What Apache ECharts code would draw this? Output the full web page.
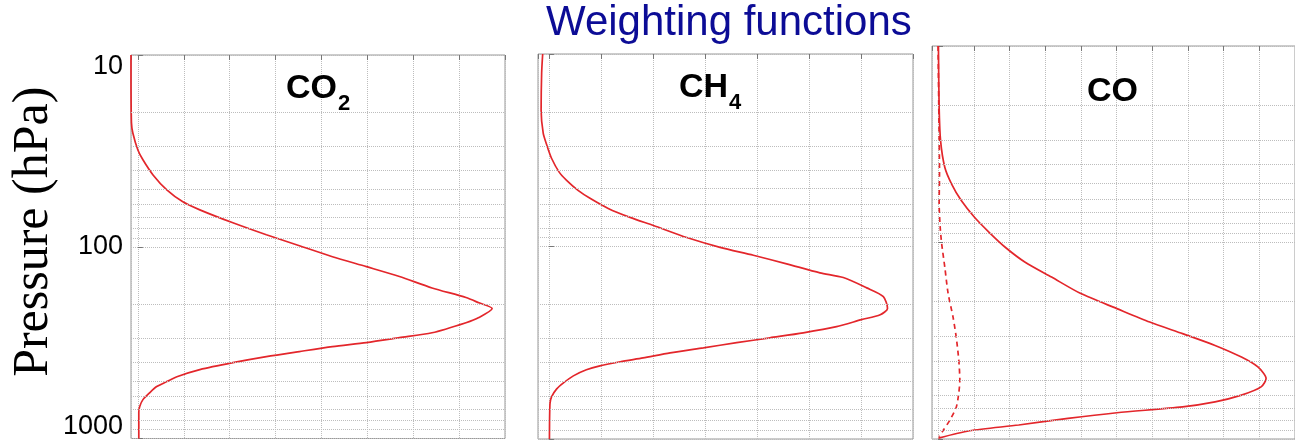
<!DOCTYPE html>
<html>
<head>
<meta charset="utf-8">
<title>Weighting functions</title>
<script src="https://cdn.jsdelivr.net/npm/echarts@6/dist/echarts.min.js"></script>
<style>
  html, body { margin: 0; padding: 0; background: #fff; }
  #chart { width: 1295px; height: 440px; }
</style>
</head>
<body>
<div id="chart"></div>
<script>
// pressure (hPa) / weighting values
const co2Pressure = [10, 12.4, 22.6, 25.5, 31.3, 35.2, 42.2, 50.5, 58.3, 64.2, 75, 86.6, 98.8, 112.7, 127, 143, 164, 184, 196, 210,
  234, 249, 281, 298, 316, 332, 352, 374, 402, 437, 476, 505, 536, 576, 627, 681, 732, 1000];
const co2Weight = [-0.15, -0.15, -0.14, -0.11, 0, 0.11, 0.33, 0.63, 0.98, 1.35, 2.07, 2.80, 3.52, 4.24, 4.98, 5.70, 6.41, 7.15, 7.43, 7.72,
  7.43, 7.15, 6.41, 5.70, 4.98, 4.24, 3.52, 2.80, 2.07, 1.35, 0.85, 0.63, 0.41, 0.26, 0.11, 0.04, 0.02, 0.02];

const ch4Pressure = [10, 12.6, 19.6, 25.8, 29.8, 34.8, 41.2, 45.3, 51.1, 56.2, 63.4, 70.6, 77.8, 89.8, 101, 111, 123, 137, 145, 164,
  182, 210, 226, 240, 261, 281, 298, 316, 336, 357, 379, 397, 417, 437, 470, 511, 549, 604, 658, 1000];
const ch4Weight = [-0.12, -0.14, -0.15, -0.11, -0.04, 0.05, 0.20, 0.34, 0.56, 0.79, 1.14, 1.56, 2.01, 2.65, 3.29, 3.93, 4.57, 5.21, 5.66, 6.11,
  6.43, 6.51, 6.37, 6.01, 5.53, 4.89, 4.25, 3.61, 2.97, 2.33, 1.81, 1.37, 0.98, 0.72, 0.47, 0.28, 0.15, 0.05, 0.02, 0.01];

const coPressure = [10, 20.5, 30.3, 41.5, 50.4, 61.2, 74.4, 88.7, 106, 126, 150, 182, 217, 254, 291, 334, 383, 430, 492, 543,
  598, 647, 686, 735, 785, 849, 908, 990];
const coWeight = [0.01, 0.03, 0.07, 0.19, 0.38, 0.65, 1.02, 1.43, 1.89, 2.44, 3.18, 4.00, 5.01, 5.93, 6.85, 7.76, 8.50, 8.96, 9.19, 9.05,
  8.50, 7.76, 6.85, 5.01, 3.64, 2.26, 0.88, 0.01];

// dashed curve in the CO panel
const coDashPressure = [10, 20.6, 44.6, 63.4, 84, 101, 134, 181, 240, 304, 397, 502, 584, 689, 802, 900, 970];
const coDashWeight = [0.00, 0.02, 0.04, 0.03, 0.06, 0.10, 0.19, 0.28, 0.42, 0.51, 0.58, 0.61, 0.58, 0.51, 0.33, 0.15, 0.03];

// minor pressure grid lines
const minorPressure = [20, 30, 40, 50, 60, 70, 80, 90, 200, 300, 400, 500, 600, 700, 800, 900];
const pressureLabels = { 10: '{top|10}', 100: '100', 1000: '{bot|1000}' };

const RED = '#e3262b';
const GRID_COLOR = '#bdbdbd';

const chart = echarts.init(document.getElementById('chart'));

function pairs(xs, ps) {
  return xs.map((x, i) => [x, ps[i]]);
}

// x extents per panel (ticks at whole numbers)
const panels = [
  { left: 131, top: 55, width: 374, height: 384, min: -0.15, max: 8, split: 8 },
  { left: 538, top: 54, width: 375, height: 385, min: -0.21, max: 7, split: 7 },
  { left: 932, top: 46, width: 369, height: 393, min: -0.17, max: 10, split: 10 }
];

const xAxes = [];
const yAxes = [];
panels.forEach((p, i) => {
  xAxes.push({
    gridIndex: i, type: 'value', min: p.min, max: p.max, splitNumber: p.split,
    axisLabel: { show: false }, axisLine: { show: false }, axisTick: { show: false },
    splitLine: { show: true, lineStyle: { color: GRID_COLOR, type: 'dotted', width: 1 } }
  });
  xAxes.push({
    gridIndex: i, type: 'value', position: 'top', min: p.min, max: p.max, splitNumber: p.split,
    axisLabel: { show: false }, axisLine: { show: false }, splitLine: { show: false },
    axisTick: { show: true, inside: true, length: 5, lineStyle: { color: '#777' } }
  });
  yAxes.push({
    gridIndex: i, type: 'log', logBase: 10, min: 10, max: 1000, inverse: true, splitNumber: 2,
    axisLine: { show: false },
    axisTick: { show: true, inside: true, length: 5, lineStyle: { color: '#777' } },
    splitLine: { show: true, lineStyle: { color: GRID_COLOR, type: 'dotted', width: 1 } },
    axisLabel: {
      show: i === 0, margin: 8, color: '#000', fontFamily: 'Liberation Sans', fontSize: 27,
      formatter: v => pressureLabels[Math.round(v)] || '',
      rich: {
        top: { fontFamily: 'Liberation Sans', fontSize: 27, color: '#000', padding: [24, 0, 0, 0] },
        bot: { fontFamily: 'Liberation Sans', fontSize: 27, color: '#000', padding: [0, 0, 24, 0] }
      }
    },
    name: i === 0 ? 'Pressure (hPa)' : '',
    nameLocation: 'middle',
    nameGap: 70,
    nameTextStyle: { fontFamily: 'Liberation Serif', fontSize: 50, color: '#000', padding: [0, 0, 0, 30] }
  });
});

const minorLines = {
  silent: true, symbol: 'none', label: { show: false },
  lineStyle: { color: GRID_COLOR, type: 'dotted', width: 1 },
  data: minorPressure.map(v => ({ yAxis: v }))
};

function curve(idx, xs, ps, dashed) {
  return {
    type: 'line', xAxisIndex: idx * 2, yAxisIndex: idx,
    data: pairs(xs, ps), showSymbol: false, smooth: 0.25,
    lineStyle: { color: RED, width: 1.7, type: dashed ? [5, 4] : 'solid' },
    markLine: dashed ? undefined : minorLines,
    z: 3
  };
}

const labelRich = {
  b: { fontFamily: 'Liberation Sans', fontWeight: 'bold', fontSize: 34, color: '#000' },
  s: { fontFamily: 'Liberation Sans', fontWeight: 'bold', fontSize: 22, color: '#000', padding: [30, 0, 0, 1] }
};

chart.setOption({
  backgroundColor: '#fff',
  animation: false,
  title: [
    { text: 'Weighting functions', left: 546, top: 2, padding: 0,
      textStyle: { fontFamily: 'Liberation Sans', fontSize: 42, fontWeight: 'normal', color: '#0c0c96' } },
    { text: '{b|CO}{s|2}', left: 286, top: 63, padding: 0, textStyle: { rich: labelRich } },
    { text: '{b|CH}{s|4}', left: 679, top: 62, padding: 0, textStyle: { rich: labelRich } },
    { text: '{b|CO}', left: 1087, top: 75, padding: 0, textStyle: { rich: labelRich } }
  ],
  grid: panels.map(p => ({
    left: p.left, top: p.top, width: p.width, height: p.height,
    show: true, borderColor: '#999', borderWidth: 1, backgroundColor: 'transparent'
  })),
  xAxis: xAxes,
  yAxis: yAxes,
  series: [
    curve(0, co2Weight, co2Pressure, false),
    curve(1, ch4Weight, ch4Pressure, false),
    curve(2, coWeight, coPressure, false),
    curve(2, coDashWeight, coDashPressure, true)
  ]
});
</script>
</body>
</html>
